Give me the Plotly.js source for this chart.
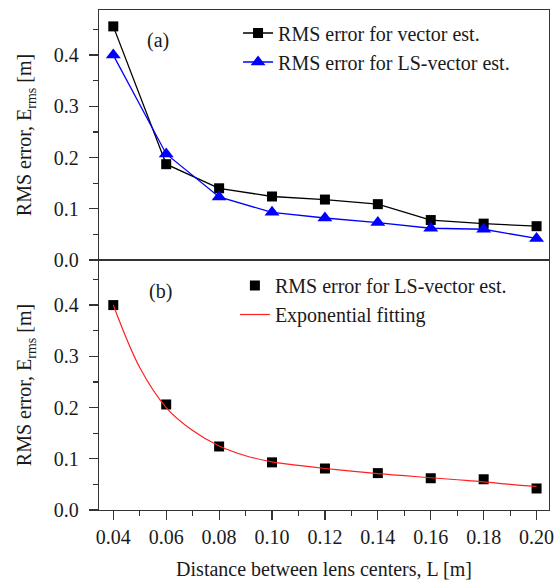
<!DOCTYPE html>
<html>
<head>
<meta charset="utf-8">
<script src="https://cdn.plot.ly/plotly-3.0.1.min.js"></script>
<style>html,body{margin:0;padding:0;background:#fff;}#chart{width:556px;height:584px;}</style>
</head>
<body>
<div id="chart"></div>
<script>
// Distance between lens centers, L [m]
const distances = [0.04, 0.06, 0.08, 0.10, 0.12, 0.14, 0.16, 0.18, 0.20];
// Panel (a)
const rmsVector = [0.456, 0.187, 0.140, 0.124, 0.118, 0.109, 0.078, 0.071, 0.066];
const rmsLSVectorA = [0.400, 0.207, 0.123, 0.093, 0.082, 0.073, 0.062, 0.060, 0.042];
// Panel (b)
const rmsLSVectorB = [0.400, 0.206, 0.124, 0.093, 0.081, 0.072, 0.062, 0.060, 0.042];
// Exponential fitting curve
const fitX = [0.04, 0.05, 0.06, 0.07, 0.08, 0.09, 0.10, 0.11, 0.12, 0.13, 0.14, 0.15, 0.16, 0.17, 0.18, 0.19, 0.20];
const fitY = [0.400, 0.278, 0.200, 0.155, 0.125, 0.106, 0.094, 0.087, 0.081, 0.076, 0.071, 0.067, 0.063, 0.059, 0.055, 0.050, 0.046];

const seriesNames = ["RMS error for vector est.", "RMS error for LS-vector est.", "Exponential fitting"];
const xTitle = "Distance between lens centers, L [m]";
const yTitle = "RMS error, E<sub>rms</sub> [m]";

const FONT = "'Liberation Serif', 'DejaVu Serif', serif";
const FS = 20;
const AX = "#333333";
const TXT = "#1a1a1a";

const traces = [
  {x: distances, y: rmsVector, xaxis: "x2", yaxis: "y2", mode: "lines+markers", name: seriesNames[0],
   line: {color: "#000000", width: 1.3}, marker: {symbol: "square", size: 10, color: "#000000"}, legend: "legend"},
  {x: distances, y: rmsLSVectorA, xaxis: "x2", yaxis: "y2", mode: "lines+markers", name: seriesNames[1],
   line: {color: "#0000ff", width: 1.3}, marker: {symbol: "triangle-up", size: 13, color: "#0000ff"}, legend: "legend"},
  {x: distances, y: rmsLSVectorB, xaxis: "x", yaxis: "y", mode: "markers", name: seriesNames[1],
   marker: {symbol: "square", size: 10, color: "#000000"}, legend: "legend2"},
  {x: fitX, y: fitY, xaxis: "x", yaxis: "y", mode: "lines", name: seriesNames[2],
   line: {color: "#ff2020", width: 1.2, shape: "spline"}, legend: "legend2"}
];

const xr = [0.0346, 0.2047];
const yr = [0, 0.488];
const yCommon = {range: yr, dtick: 0.1, tick0: 0, tickformat: ".1f", ticks: "outside", ticklen: 9, tickwidth: 1.2, tickcolor: AX,
  minor: {dtick: 0.05, ticks: "outside", ticklen: 5, tickwidth: 1.2, tickcolor: AX},
  ticklabelstandoff: 6,
  showline: true, linecolor: AX, linewidth: 1.2, mirror: true, showgrid: false, zeroline: false,
  tickfont: {family: FONT, size: FS, color: TXT},
  title: {text: yTitle, font: {family: FONT, size: FS, color: TXT}, standoff: 16}};

const layout = {
  width: 556, height: 584,
  margin: {l: 99, r: 7, t: 10, b: 74},
  paper_bgcolor: "#ffffff", plot_bgcolor: "#ffffff",
  font: {family: FONT, size: FS, color: TXT},
  xaxis: {anchor: "y", range: xr, dtick: 0.02, tick0: 0.04, tickformat: ".2f", ticks: "outside", ticklen: 9, tickwidth: 1.2, tickcolor: AX,
    minor: {dtick: 0.01, ticks: "outside", ticklen: 5, tickwidth: 1.2, tickcolor: AX},
    showline: true, linecolor: AX, linewidth: 1.2, mirror: true, showgrid: false, zeroline: false,
    tickfont: {family: FONT, size: FS, color: TXT},
    title: {text: xTitle, font: {family: FONT, size: FS, color: TXT}, standoff: 14}},
  xaxis2: {anchor: "y2", matches: "x", range: xr, showticklabels: false, ticks: "",
    showline: true, linecolor: AX, linewidth: 1.2, mirror: true, showgrid: false, zeroline: false},
  yaxis: Object.assign({}, yCommon, {domain: [0, 0.5], anchor: "x"}),
  yaxis2: Object.assign({}, yCommon, {domain: [0.5, 1], anchor: "x2"}),
  legend: {x: 0.309, y: 0.993, xanchor: "left", yanchor: "top", bgcolor: "rgba(0,0,0,0)", borderwidth: 0,
    font: {family: FONT, size: FS, color: TXT}, tracegroupgap: 0},
  legend2: {x: 0.302, y: 0.488, xanchor: "left", yanchor: "top", bgcolor: "rgba(0,0,0,0)", borderwidth: 0,
    font: {family: FONT, size: FS, color: TXT}, tracegroupgap: 0},
  showlegend: true,
  annotations: [
    {text: "(a)", xref: "paper", yref: "paper", x: 0.131, y: 0.94, xanchor: "center", yanchor: "middle", showarrow: false, font: {family: FONT, size: FS, color: TXT}},
    {text: "(b)", xref: "paper", yref: "paper", x: 0.1356, y: 0.438, xanchor: "center", yanchor: "middle", showarrow: false, font: {family: FONT, size: FS, color: TXT}}
  ]
};

Plotly.newPlot("chart", traces, layout, {displayModeBar: false, staticPlot: true});
</script>
</body>
</html>
